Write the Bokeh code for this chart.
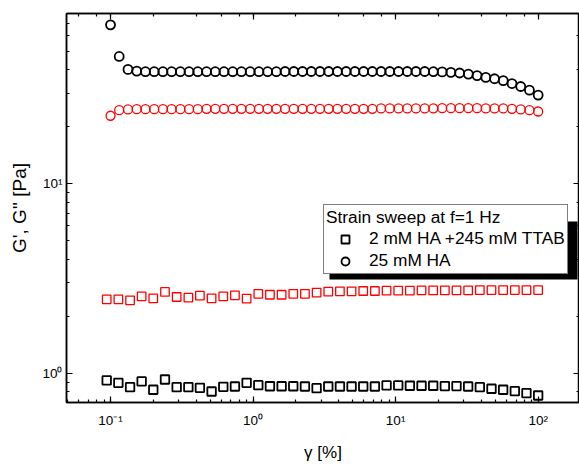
from bokeh.plotting import figure
from bokeh.models import (Range1d, LogAxis, LogTicker, CustomJSTickFormatter,
                          Legend, LegendItem, BoxAnnotation)
from bokeh.embed import file_html
from bokeh.resources import INLINE

# strain amplitude [%], 25 mM HA (50 points)
x_ha = [0.1, 0.115, 0.1326, 0.1527, 0.1758, 0.2025, 0.233, 0.2683, 0.3089, 0.3557,
        0.4095, 0.4716, 0.5429, 0.6252, 0.7197, 0.8286, 0.9541, 1.099, 1.265, 1.456,
        1.677, 1.931, 2.223, 2.56, 2.947, 3.393, 3.907, 4.498, 5.179, 5.964,
        6.866, 7.906, 9.103, 10.48, 12.07, 13.89, 16.0, 18.42, 21.21, 24.42,
        28.12, 32.37, 37.28, 42.92, 49.42, 56.9, 65.52, 75.44, 86.86, 100.0]
g1_ha = [68.7, 46.8, 40.0, 39.2, 38.9, 38.9, 38.9, 38.9, 38.9, 38.9,
         38.9, 38.9, 38.9, 38.9, 38.9, 38.9, 38.9, 38.9, 38.9, 38.9,
         39.0, 39.0, 39.0, 39.0, 39.0, 39.0, 39.0, 39.0, 39.0, 39.0,
         39.0, 39.0, 39.0, 39.0, 39.0, 39.0, 39.0, 38.9, 38.8, 38.6,
         38.3, 37.8, 37.1, 36.3, 35.7, 34.9, 33.7, 32.5, 31.1, 29.3]
g2_ha = [22.8, 24.4, 24.6, 24.7, 24.7, 24.7, 24.7, 24.7, 24.7, 24.7,
         24.7, 24.8, 24.8, 24.8, 24.8, 24.8, 24.8, 24.8, 24.8, 24.8,
         24.8, 24.8, 24.8, 24.8, 24.8, 24.8, 24.8, 24.8, 24.8, 24.8,
         24.8, 24.9, 24.9, 24.9, 24.9, 24.9, 24.9, 24.9, 25.0, 25.0,
         25.0, 25.0, 25.0, 24.9, 24.9, 24.9, 24.8, 24.6, 24.4, 24.0]

# strain amplitude [%], 2 mM HA + 245 mM TTAB (38 points)
x_tt = [0.094, 0.1135, 0.1371, 0.1653, 0.1995, 0.241, 0.291, 0.3516, 0.4236, 0.5117,
        0.618, 0.746, 0.901, 1.088, 1.313, 1.586, 1.914, 2.311, 2.79, 3.369,
        4.067, 4.909, 5.928, 7.155, 8.64, 10.43, 12.59, 15.2, 18.35, 22.15,
        26.74, 32.28, 38.97, 47.06, 56.81, 68.59, 82.79, 100.0]
g1_tt = [0.919, 0.893, 0.847, 0.908, 0.821, 0.930, 0.847, 0.847, 0.841, 0.804,
         0.851, 0.854, 0.893, 0.868, 0.857, 0.857, 0.857, 0.854, 0.837, 0.854,
         0.854, 0.854, 0.854, 0.854, 0.865, 0.865, 0.862, 0.862, 0.862, 0.859,
         0.859, 0.854, 0.847, 0.831, 0.821, 0.807, 0.788, 0.766]
g2_tt = [2.46, 2.46, 2.43, 2.55, 2.49, 2.69, 2.53, 2.51, 2.57, 2.49,
         2.55, 2.58, 2.48, 2.63, 2.60, 2.60, 2.63, 2.63, 2.67, 2.70,
         2.71, 2.71, 2.72, 2.72, 2.73, 2.73, 2.73, 2.74, 2.74, 2.74,
         2.74, 2.74, 2.75, 2.75, 2.75, 2.75, 2.75, 2.75]

legend_title = "Strain sweep at f=1 Hz"
label_tt = "2 mM HA +245 mM TTAB"
label_ha = "25 mM HA"
x_label = "γ [%]"
y_label = "G', G'' [Pa]"

FONT = "Liberation Sans"

p = figure(width=579, height=464, x_axis_type="log", y_axis_type="log",
           x_range=Range1d(0.0491, 195), y_range=Range1d(0.7035, 78.8),
           output_backend="svg", toolbar_location=None,
           min_border_left=66, min_border_right=0, min_border_top=13,
           min_border_bottom=62)
p.grid.visible = False
p.outline_line_color = "black"
p.outline_line_width = 1.5
p.background_fill_color = "white"
p.border_fill_color = "white"

fmt_code = """
const sup = {'-':'\u207b','0':'\u2070','1':'\u00b9','2':'\u00b2','3':'\u00b3'};
const e = Math.round(Math.log10(tick));
return '10' + String(e).split('').map(c => sup[c]).join('');
"""
blank_code = "return ' ';"

def style_axis(ax, labels=True):
    ax.axis_line_width = 1.5
    ax.axis_line_color = "black"
    ax.major_tick_in = 6
    ax.major_tick_out = 0
    ax.minor_tick_in = 3
    ax.minor_tick_out = 0
    ax.major_tick_line_width = 1.2
    ax.minor_tick_line_width = 1.2
    ax.major_tick_line_color = "black"
    ax.minor_tick_line_color = "black"
    if labels:
        ax.formatter = CustomJSTickFormatter(code=fmt_code)
        ax.major_label_text_font = FONT
        ax.major_label_text_font_size = "13.5px"
        ax.major_label_text_color = "black"
        ax.axis_label_text_font = FONT
        ax.axis_label_text_font_size = "17px"
        ax.axis_label_text_font_style = "normal"
        ax.axis_label_text_color = "black"
    else:
        ax.formatter = CustomJSTickFormatter(code=blank_code)
        ax.major_label_text_font_size = "1px"
        ax.major_label_text_color = None
        ax.major_label_standoff = 0

for ax in p.xaxis:
    style_axis(ax)
    ax.axis_label = x_label
    ax.major_label_standoff = 10
    ax.axis_label_standoff = 12
for ax in p.yaxis:
    style_axis(ax)
    ax.axis_label = y_label
    ax.axis_label_text_font_size = "19px"
    ax.major_label_standoff = 4
    ax.axis_label_standoff = 9

top_ax = LogAxis(ticker=LogTicker())
style_axis(top_ax, labels=False)
p.add_layout(top_ax, "above")
right_ax = LogAxis(ticker=LogTicker())
style_axis(right_ax, labels=False)
p.add_layout(right_ax, "right")

r_g2_tt = p.scatter(x_tt, g2_tt, marker="square", size=8.5, fill_color=None,
                    line_color="#ff0000", line_width=1.3)
r_g2_ha = p.scatter(x_ha, g2_ha, marker="circle", size=9, fill_color=None,
                    line_color="#ff0000", line_width=1.3)
r_g1_tt = p.scatter(x_tt, g1_tt, marker="square", size=8.5, fill_color=None,
                    line_color="black", line_width=1.8)
r_g1_ha = p.scatter(x_ha, g1_ha, marker="circle", size=9, fill_color=None,
                    line_color="black", line_width=1.8)

shadow = BoxAnnotation(left=329, right=577, top=221, bottom=279,
                       left_units="canvas", right_units="canvas",
                       top_units="canvas", bottom_units="canvas",
                       fill_color="black", fill_alpha=1.0, line_color=None)
p.add_layout(shadow)

legend = Legend(items=[LegendItem(label=label_tt, renderers=[r_g1_tt]),
                       LegendItem(label=label_ha, renderers=[r_g1_ha])],
                location=(257, 128), title=legend_title)
legend.title_text_font = FONT
legend.title_text_font_size = "17.3px"
legend.title_text_font_style = "normal"
legend.title_text_color = "black"
legend.title_standoff = 0
legend.label_text_font = FONT
legend.label_text_font_size = "17.3px"
legend.label_text_color = "black"
legend.padding = 2
legend.spacing = 1
legend.margin = 0
legend.glyph_width = 38
legend.glyph_height = 20
legend.label_height = 20
legend.label_standoff = 5
legend.border_line_color = "black"
legend.border_line_width = 1.2
legend.background_fill_color = "white"
legend.background_fill_alpha = 1.0
p.add_layout(legend)

open("out.html", "w").write(file_html(p, INLINE))
